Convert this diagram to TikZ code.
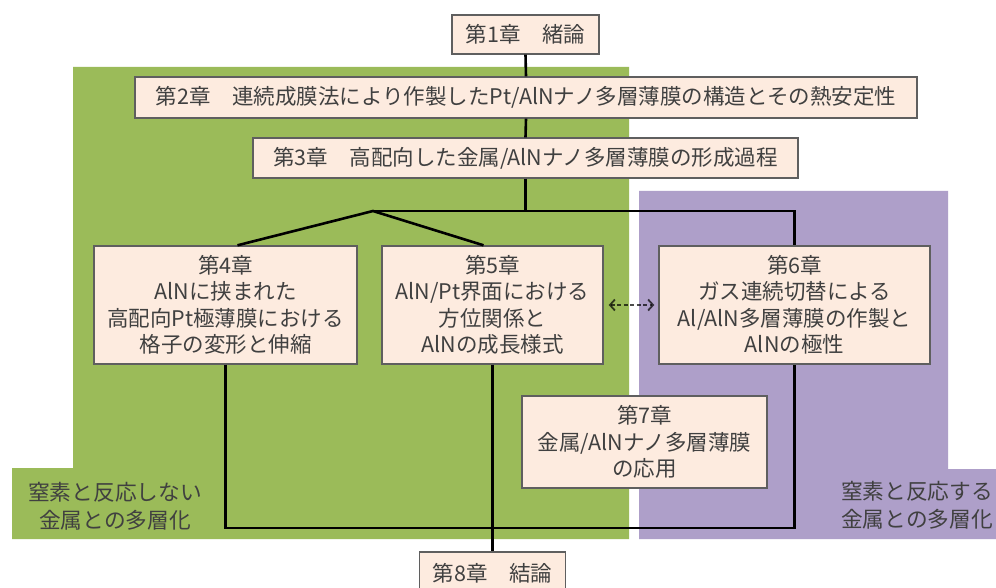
\documentclass[tikz,border=0pt]{standalone}
\usepackage{fontspec}
\setmainfont{Noto Sans CJK JP}
\usetikzlibrary{arrows.meta}
\definecolor{bggreen}{HTML}{9BBB59}
\definecolor{bgpurple}{HTML}{AE9FC9}
\definecolor{boxfill}{HTML}{FDEBDF}
\definecolor{boxline}{HTML}{5F5F5F}
\definecolor{txt}{HTML}{404040}
\begin{document}
\begin{tikzpicture}[x=1pt,y=-1pt,
  chap/.style={draw=boxline, line width=1.4pt, fill=boxfill, text=txt, align=center, inner sep=0pt, font=\fontsize{21.5}{26.5}\selectfont},
  conn/.style={line width=2.6pt, draw=black},
  lbl/.style={text=txt, align=center, inner sep=0pt, font=\fontsize{21.7}{28}\selectfont},
  dasharrow/.style={dash pattern=on 4pt off 2.5pt, line width=1.8pt, draw=black, draw opacity=0.7, {Straight Barb[length=5pt,width=11pt]}-{Straight Barb[length=5pt,width=11pt]}, shorten <=5pt, shorten >=4pt}]
\useasboundingbox (0,0) rectangle (996,588);
\fill[white] (0,0) rectangle (996,588);
% background regions
\fill[bggreen] (73,67) -- (629,67) -- (629,539) -- (12,539) -- (12,468) -- (73,468) -- cycle;
\fill[bgpurple] (639,191) -- (948,191) -- (948,469) -- (996,469) -- (996,539) -- (639,539) -- cycle;
% chapter boxes
\node[chap, minimum width=147pt, minimum height=39pt] (c1) at (525.5,34.5) {第1章　緒論};
\node[chap, minimum width=782pt, minimum height=41pt] (c2) at (526,97.5) {第2章　連続成膜法により作製したPt/AlNナノ多層薄膜の構造とその熱安定性};
\node[chap, minimum width=545pt, minimum height=40pt] (c3) at (525.5,158) {第3章　高配向した金属/AlNナノ多層薄膜の形成過程};
\node[chap, minimum width=263pt, minimum height=118pt] (c4) at (225.5,305) {第4章\\AlNに挟まれた\\高配向Pt極薄膜における\\格子の変形と伸縮};
\node[chap, minimum width=221pt, minimum height=118pt] (c5) at (492.5,305) {第5章\\AlN/Pt界面における\\方位関係と\\AlNの成長様式};
\node[chap, minimum width=271pt, minimum height=118pt] (c6) at (794.5,305) {第6章\\ガス連続切替による\\Al/AlN多層薄膜の作製と\\AlNの極性};
\node[chap, minimum width=245pt, minimum height=92pt] (c7) at (644.5,442) {第7章\\金属/AlNナノ多層薄膜\\の応用};
\node[chap, minimum width=146pt, minimum height=42pt] (c8) at (492.5,573) {第8章　結論};
% region labels
\node[lbl] (l1) at (115,506) {窒素と反応しない\\金属との多層化};
\node[lbl] (l2) at (917,505) {窒素と反応する\\金属との多層化};
% connectors
\coordinate (j) at (373,211);
\coordinate (bot) at (0,528);
\draw[conn] (c1.south) -- (c2.north);
\draw[conn] (c2.south) -- (c3.north);
\draw[conn] (c3.south) -- (c3.south |- j);
\draw[conn] (j) -- (j -| c6.north) -- (c6.north);
\draw[conn] ([xshift=12pt]c4.north) -- (j) -- ([xshift=-9pt]c5.north);
\draw[conn] (c4.south) -- (c4.south |- bot) -- (c6.south |- bot) -- (c6.south);
\draw[conn] (c5.south) -- (c8.north);
\draw[dasharrow] (c5.east) -- (c6.west);
\end{tikzpicture}
\end{document}
